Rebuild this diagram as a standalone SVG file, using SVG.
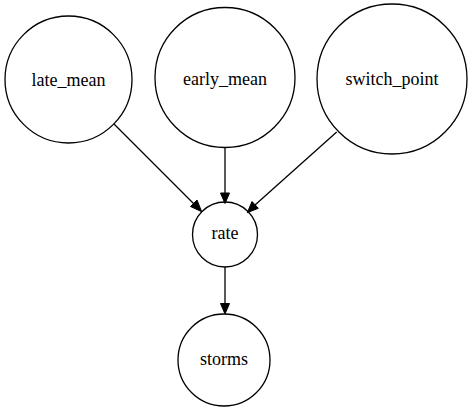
<svg xmlns="http://www.w3.org/2000/svg" width="472" height="412" viewBox="0 0 472 412">
<style>
.n{fill:none;stroke:#000;stroke-width:1.3}
text{font-family:'Liberation Serif','Times New Roman',Times,serif;font-size:18px;text-anchor:middle;fill:#000}
.e{stroke:#000;stroke-width:1.3;fill:none}
.h{fill:#000;stroke:#000;stroke-width:1}
</style>
<rect width="472" height="412" fill="#fff"/>
<g id="late_mean"><circle class="n" cx="68.5" cy="79.5" r="63.5"/><text font-family="Liberation Serif, serif" x="68.5" y="85.5">late_mean</text></g>
<g id="early_mean"><circle class="n" cx="225" cy="77.5" r="70"/><text font-family="Liberation Serif, serif" x="225" y="85">early_mean</text></g>
<g id="switch_point"><circle class="n" cx="392" cy="79" r="75"/><text font-family="Liberation Serif, serif" x="392" y="85">switch_point</text></g>
<g id="rate"><circle class="n" cx="225" cy="234.5" r="32.5"/><text font-family="Liberation Serif, serif" x="225" y="238.5">rate</text></g>
<g id="storms"><circle class="n" cx="224" cy="360" r="46"/><text font-family="Liberation Serif, serif" x="224" y="365">storms</text></g>
<g id="connectors">
<line class="e" x1="114" y1="124" x2="194" y2="204"/>
<polygon class="h" points="201.7,211.7 190.5,206.5 197,200"/>
<line class="e" x1="225" y1="147.5" x2="225" y2="193"/>
<polygon class="h" points="225,203.5 220.5,193 229.5,193"/>
<line class="e" x1="336.7" y1="132" x2="255" y2="205"/>
<polygon class="h" points="247.3,212.7 252,201.5 258.3,208.3"/>
<line class="e" x1="225" y1="267" x2="225" y2="303.5"/>
<polygon class="h" points="225,314 220.5,303.5 229.5,303.5"/>
</g>
</svg>
